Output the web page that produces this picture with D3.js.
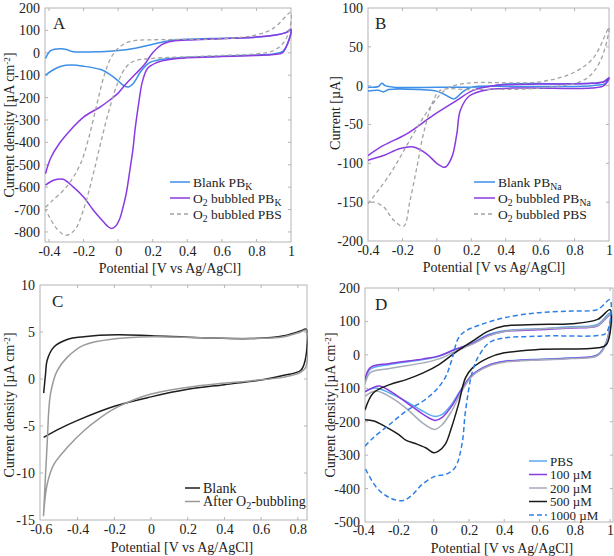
<!DOCTYPE html>
<html><head><meta charset="utf-8">
<script src="https://cdn.jsdelivr.net/npm/d3@7/dist/d3.min.js"></script>
<style>body{margin:0;background:#fff}svg{display:block}</style>
</head><body>
<svg id="c" width="614" height="556"></svg>
<script>
// ---------- DATA (potential V, current) ----------
// Panel A (µA cm-2)
const aBlankPBK = [[-0.42,-25],[-0.39,10],[-0.33,18],[-0.3,15],[-0.26,5],[-0.1,5],[0,10],[0.1,20],[0.2,38],[0.3,55],[0.4,60],[0.6,65],[0.8,70],[0.9,78],[0.97,90],[1.0,100],
  [0.98,40],[0.95,5],[0.9,-5],[0.8,-10],[0.6,-15],[0.4,-20],[0.25,-30],[0.18,-45],[0.13,-85],[0.09,-135],[0.06,-153],[0.03,-145],[0,-125],[-0.05,-95],[-0.1,-75],[-0.2,-60],[-0.27,-55],[-0.33,-60],[-0.38,-78],[-0.42,-100]];
const aO2PBK = [[-0.42,-540],[-0.39,-470],[-0.34,-405],[-0.27,-340],[-0.2,-287],[-0.1,-240],[-0.05,-212],[0,-180],[0.05,-135],[0.1,-95],[0.15,-55],[0.2,0],[0.25,35],[0.3,50],[0.4,57],[0.6,63],[0.8,70],[0.9,78],[0.97,90],[1.0,105],
  [0.98,40],[0.95,0],[0.9,-8],[0.8,-12],[0.6,-17],[0.4,-22],[0.3,-30],[0.22,-45],[0.17,-70],[0.14,-130],[0.12,-220],[0.1,-330],[0.085,-435],[0.065,-540],[0.047,-628],[0.025,-700],[0.01,-740],[-0.015,-775],[-0.037,-785],[-0.06,-775],[-0.085,-755],[-0.143,-703],[-0.2,-644],[-0.26,-599],[-0.318,-565],[-0.37,-568],[-0.42,-591]];
const aO2PBS = [[-0.42,-690],[-0.38,-660],[-0.3,-600],[-0.22,-500],[-0.17,-380],[-0.12,-220],[-0.08,-100],[-0.04,-20],[0,20],[0.05,45],[0.1,55],[0.2,58],[0.4,60],[0.6,62],[0.8,80],[0.9,110],[1.0,180],
  [0.97,60],[0.9,10],[0.8,-5],[0.6,-12],[0.4,-18],[0.2,-25],[0.1,-35],[0.05,-60],[0,-130],[-0.05,-250],[-0.1,-400],[-0.15,-560],[-0.2,-700],[-0.25,-790],[-0.3,-815],[-0.35,-790],[-0.4,-730],[-0.42,-700]];
// Panel B (µA)
const bBlankPBNa = [[-0.4,-2],[-0.34,-1],[-0.32,3],[-0.3,0],[-0.25,-2],[0,-2],[0.3,-1],[0.4,2],[0.9,3],[0.97,5],[1.0,10],
  [0.98,3],[0.9,0],[0.5,-1],[0.2,-2],[0.15,-8],[0.1,-17],[0.05,-12],[0,-7],[-0.1,-5],[-0.28,-5],[-0.31,-8],[-0.34,-6],[-0.4,-7]];
const bO2PBNa = [[-0.4,-90],[-0.31,-77],[-0.175,-62],[-0.02,-38],[0.116,-19],[0.21,-6],[0.33,0],[0.6,2],[0.9,3],[0.97,5],[1.0,10],
  [0.97,0],[0.9,-3],[0.5,-3],[0.3,-5],[0.19,-13],[0.136,-32],[0.116,-62],[0.087,-92],[0.048,-105],[0,-100],[-0.058,-88],[-0.136,-79],[-0.213,-81],[-0.31,-90],[-0.4,-96]];
const bO2PBS = [[-0.4,-152],[-0.27,-113],[-0.136,-62],[-0.039,-28],[0.058,-4],[0.17,3],[0.6,5],[0.795,17],[0.91,36],[1.0,75],
  [0.95,32],[0.86,8],[0.6,-3],[0.2,-5],[0.02,-6],[-0.02,-19],[-0.078,-62],[-0.116,-105],[-0.155,-147],[-0.194,-181],[-0.252,-173],[-0.31,-156],[-0.37,-150],[-0.4,-152]];
// Panel C (µA cm-2)
const cBlank = [[-0.585,-1.5],[-0.575,0.5],[-0.566,2.0],[-0.529,3.4],[-0.457,4.2],[-0.366,4.5],[-0.184,4.7],[0,4.6],[0.27,4.4],[0.543,4.3],[0.725,4.6],[0.815,5.1],[0.845,5.3],
  [0.84,2.0],[0.815,0.9],[0.725,0.4],[0.6,-0.1],[0.4,-0.6],[0.2,-1.1],[0,-1.9],[-0.2,-2.9],[-0.4,-4.4],[-0.5,-5.3],[-0.585,-6.2]];
const cAfterO2 = [[-0.586,-14.6],[-0.566,-6.9],[-0.548,-1.6],[-0.511,0.9],[-0.457,2.3],[-0.366,3.6],[-0.184,4.3],[0,4.5],[0.27,4.4],[0.543,4.3],[0.725,4.5],[0.815,5.0],[0.845,5.2],
  [0.843,1.25],[0.815,0.7],[0.725,0.2],[0.54,-0.2],[0.27,-0.7],[0,-1.6],[-0.184,-3.0],[-0.275,-4.1],[-0.366,-5.5],[-0.457,-7.3],[-0.53,-9.1],[-0.566,-11.2],[-0.586,-14.6]];
// Panel D (µA cm-2)
const dPBS = [[-0.39,-79],[-0.36,-43],[-0.25,-29],[-0.06,-14],[0.03,-4],[0.12,16],[0.22,36],[0.31,61],[0.4,72],[0.59,78],[0.78,84],[0.93,91],[1.0,125],
  [0.98,41],[0.93,1],[0.78,-9],[0.4,-19],[0.31,-31],[0.22,-59],[0.16,-99],[0.1,-149],[0.046,-179],[0.005,-184],[-0.06,-169],[-0.156,-139],[-0.25,-114],[-0.33,-99],[-0.39,-109]];
const d100 = [[-0.39,-75],[-0.36,-38],[-0.25,-26],[-0.06,-12],[0.03,-3],[0.12,16],[0.22,34],[0.31,58],[0.4,70],[0.59,75],[0.78,80],[0.93,87],[1.0,118],
  [0.98,38],[0.93,-1],[0.78,-10],[0.4,-20],[0.31,-32],[0.22,-60],[0.16,-102],[0.1,-155],[0.046,-188],[0.008,-196],[-0.06,-178],[-0.156,-142],[-0.25,-108],[-0.31,-93],[-0.39,-111]];
const d200 = [[-0.39,-89],[-0.36,-53],[-0.25,-41],[-0.06,-24],[0.03,-12],[0.12,10],[0.22,32],[0.31,56],[0.4,70],[0.59,77],[0.78,82],[0.93,88],[1.0,120],
  [0.98,38],[0.93,-2],[0.78,-11],[0.4,-22],[0.31,-34],[0.22,-62],[0.16,-108],[0.1,-170],[0.046,-210],[0.005,-223],[-0.06,-205],[-0.156,-160],[-0.25,-125],[-0.33,-108],[-0.39,-124]];
const d500 = [[-0.39,-165],[-0.343,-114],[-0.25,-89],[-0.156,-74],[-0.06,-54],[0.03,-29],[0.12,6],[0.22,41],[0.31,71],[0.4,86],[0.59,91],[0.78,93],[0.93,106],[1.0,135],
  [0.98,31],[0.93,21],[0.59,16],[0.4,6],[0.31,-9],[0.22,-39],[0.18,-69],[0.14,-149],[0.1,-219],[0.065,-268],[0.027,-288],[0,-293],[-0.046,-278],[-0.1,-266],[-0.156,-256],[-0.2,-238],[-0.28,-213],[-0.34,-198],[-0.39,-194]];
const d1000 = [[-0.39,-273],[-0.343,-248],[-0.25,-208],[-0.156,-168],[-0.06,-138],[0.008,-108],[0.065,-68],[0.1,-19],[0.14,50],[0.18,71],[0.27,91],[0.4,111],[0.59,126],[0.78,131],[0.93,136],[1.0,165],
  [0.98,66],[0.93,58],[0.6,56],[0.33,41],[0.26,1],[0.22,-49],[0.18,-169],[0.16,-268],[0.12,-338],[0.065,-358],[0.008,-363],[-0.067,-388],[-0.12,-418],[-0.173,-436],[-0.248,-428],[-0.323,-398],[-0.39,-338]];

// ticks
const xTicksAB = [-0.4,-0.2,0,0.2,0.4,0.6,0.8,1];
const yTicksA = [200,100,0,-100,-200,-300,-400,-500,-600,-700,-800];
const yTicksB = [100,50,0,-50,-100,-150,-200];
const xTicksC = [-0.6,-0.4,-0.2,0,0.2,0.4,0.6,0.8];
const yTicksC = [10,5,0,-5,-10,-15];
const xTicksD = [-0.4,-0.2,0,0.2,0.4,0.6,0.8,1];
const yTicksD = [200,100,0,-100,-200,-300,-400,-500];

// ---------- DRAW ----------
const svg = d3.select('#c');
const FONT = "'Liberation Serif','DejaVu Serif',serif";
const TXT = '#222';
const BLUE = '#3d8fe8', PURPLE = '#8a3ae2', GRAY = '#a3a3a3';

function rich(sel, parts){
  parts.forEach(p=>{
    if(typeof p === 'string'){ sel.append('tspan').text(p); }
    else if(p.sub){ sel.append('tspan').attr('font-size','0.72em').attr('baseline-shift','-28%').text(p.sub); }
    else if(p.sup){ sel.append('tspan').attr('font-size','0.65em').attr('baseline-shift','45%').text(p.sup); }
  });
}
const fmt = v => (Math.abs(v)<1e-9 ? '0' : String(+v.toFixed(2)));

function panel(cfg){
  const g = svg.append('g').attr('font-family',FONT).attr('fill',TXT);
  const x = d3.scaleLinear().domain(cfg.xd).range([cfg.l,cfg.r]);
  const y = d3.scaleLinear().domain(cfg.yd).range([cfg.b,cfg.t]);
  g.append('rect').attr('x',cfg.l).attr('y',cfg.t).attr('width',cfg.r-cfg.l).attr('height',cfg.b-cfg.t)
    .attr('fill','none').attr('stroke','#b4b4b4').attr('stroke-width',1);
  const xa = d3.axisBottom(x).tickValues(cfg.xt).tickSize(0).tickPadding(cfg.xpad||5).tickFormat(fmt);
  const ya = d3.axisLeft(y).tickValues(cfg.yt).tickSize(0).tickPadding(5).tickFormat(fmt);
  const gx = g.append('g').attr('transform',`translate(0,${cfg.b})`).call(xa);
  const gy = g.append('g').attr('transform',`translate(${cfg.l},0)`).call(ya);
  [gx,gy].forEach(a=>{a.select('.domain').remove(); a.selectAll('text').attr('font-family',FONT).attr('font-size',14).attr('fill',TXT);});
  const tk = g.append('g').attr('stroke','#b4b4b4').attr('stroke-width',1);
  cfg.xt.forEach(v=>{ if(x(v)>cfg.l+1 && x(v)<cfg.r-1){
    tk.append('line').attr('x1',x(v)).attr('x2',x(v)).attr('y1',cfg.b).attr('y2',cfg.b-3);
    tk.append('line').attr('x1',x(v)).attr('x2',x(v)).attr('y1',cfg.t).attr('y2',cfg.t+3);}});
  cfg.yt.forEach(v=>{ if(y(v)>cfg.t+1 && y(v)<cfg.b-1){
    tk.append('line').attr('y1',y(v)).attr('y2',y(v)).attr('x1',cfg.l).attr('x2',cfg.l+3);
    tk.append('line').attr('y1',y(v)).attr('y2',y(v)).attr('x1',cfg.r).attr('x2',cfg.r-3);}});
  const cid = 'clip'+cfg.id;
  g.append('clipPath').attr('id',cid).append('rect').attr('x',cfg.l).attr('y',cfg.t-2).attr('width',cfg.r-cfg.l+1).attr('height',cfg.b-cfg.t+4);
  const line = d3.line().x(d=>x(d[0])).y(d=>y(d[1])).curve(d3.curveCatmullRom.alpha(0.5));
  const cg = g.append('g').attr('clip-path',`url(#${cid})`);
  cfg.series.forEach(s=>{
    cg.append('path').attr('d',line(s.data)).attr('fill','none').attr('stroke',s.color)
      .attr('stroke-width',s.w||1.5).attr('stroke-dasharray',s.dash||null);
  });
  g.append('text').attr('x',cfg.l+cfg.lx).attr('y',cfg.t+cfg.ly).attr('font-size',17).text(cfg.letter);
  g.append('text').attr('x',cfg.xtx).attr('y',cfg.xty).attr('text-anchor','middle').attr('font-size',14).text('Potential [V vs Ag/AgCl]');
  const yt = g.append('text').attr('transform',`translate(${cfg.ytx},${cfg.yty}) rotate(-90)`).attr('text-anchor','middle').attr('font-size',14);
  rich(yt, cfg.ytitle);
  cfg.series.forEach((s,i)=>{
    const yy = cfg.lg.y + i*cfg.lg.dy;
    g.append('line').attr('x1',cfg.lg.x).attr('x2',cfg.lg.x+cfg.lg.len).attr('y1',yy).attr('y2',yy)
      .attr('stroke',s.color).attr('stroke-width',s.w||1.5).attr('stroke-dasharray',s.dash||null);
    const t = g.append('text').attr('x',cfg.lg.x+cfg.lg.len+3).attr('y',yy+4.5).attr('font-size',cfg.lg.fs||14);
    rich(t, s.label);
  });
}

panel({id:'A', l:45, r:291, t:8, b:242, xd:[-0.423,1.0], yd:[-845,200], xt:xTicksAB, yt:yTicksA,
  letter:'A', lx:8, ly:21, xtx:170, xty:273, ytx:14, yty:125, xpad:4,
  ytitle:['Current density [µA cm',{sup:'-2'},']'],
  lg:{x:170, y:182, dy:16, len:20, fs:13.5},
  series:[
    {data:aBlankPBK, color:BLUE, label:['Blank PB',{sub:'K'}]},
    {data:aO2PBK, color:PURPLE, label:['O',{sub:'2'},' bubbled PB',{sub:'K'}]},
    {data:aO2PBS, color:GRAY, dash:'4,3', w:1.3, label:['O',{sub:'2'},' bubbled PBS']}
  ]});

panel({id:'B', l:368, r:609, t:8, b:241, xd:[-0.4,1.0], yd:[-200,100], xt:xTicksAB, yt:yTicksB,
  letter:'B', lx:7, ly:21, xtx:494, xty:272, ytx:340, yty:113, xpad:4,
  ytitle:['Current [µA]'],
  lg:{x:474, y:182, dy:16, len:21, fs:13.5},
  series:[
    {data:bBlankPBNa, color:BLUE, label:['Blank PB',{sub:'Na'}]},
    {data:bO2PBNa, color:PURPLE, label:['O',{sub:'2'},' bubbled PB',{sub:'Na'}]},
    {data:bO2PBS, color:GRAY, dash:'4,3', w:1.3, label:['O',{sub:'2'},' bubbled PBS']}
  ]});

panel({id:'C', l:40, r:307, t:285, b:520, xd:[-0.605,0.85], yd:[-15,10], xt:xTicksC, yt:yTicksC,
  letter:'C', lx:12, ly:22, xtx:182, xty:552, ytx:14, yty:405, xpad:4,
  ytitle:['Current density [µA cm',{sup:'-2'},']'],
  lg:{x:185, y:488, dy:13.5, len:15},
  series:[
    {data:cBlank, color:'#1e1e1e', label:['Blank']},
    {data:cAfterO2, color:'#9a9a9a', label:['After O',{sub:'2'},'-bubbling']}
  ]});

panel({id:'D', l:365, r:613, t:288, b:522, xd:[-0.39,1.017], yd:[-500,200], xt:xTicksD, yt:yTicksD,
  letter:'D', lx:10, ly:22, xtx:502, xty:553, ytx:335, yty:405, xpad:3,
  ytitle:['Current density [µA cm',{sup:'-2'},']'],
  lg:{x:529, y:461, dy:13.5, len:18, fs:13},
  series:[
    {data:dPBS, color:'#5aaaf2', label:['PBS']},
    {data:d100, color:'#8a3ae2', label:['100 µM']},
    {data:d200, color:'#a4abb8', label:['200 µM']},
    {data:d500, color:'#1a1a1a', label:['500 µM']},
    {data:d1000, color:'#2f80e6', dash:'5,3', label:['1000 µM']}
  ]});
</script>
</body></html>
